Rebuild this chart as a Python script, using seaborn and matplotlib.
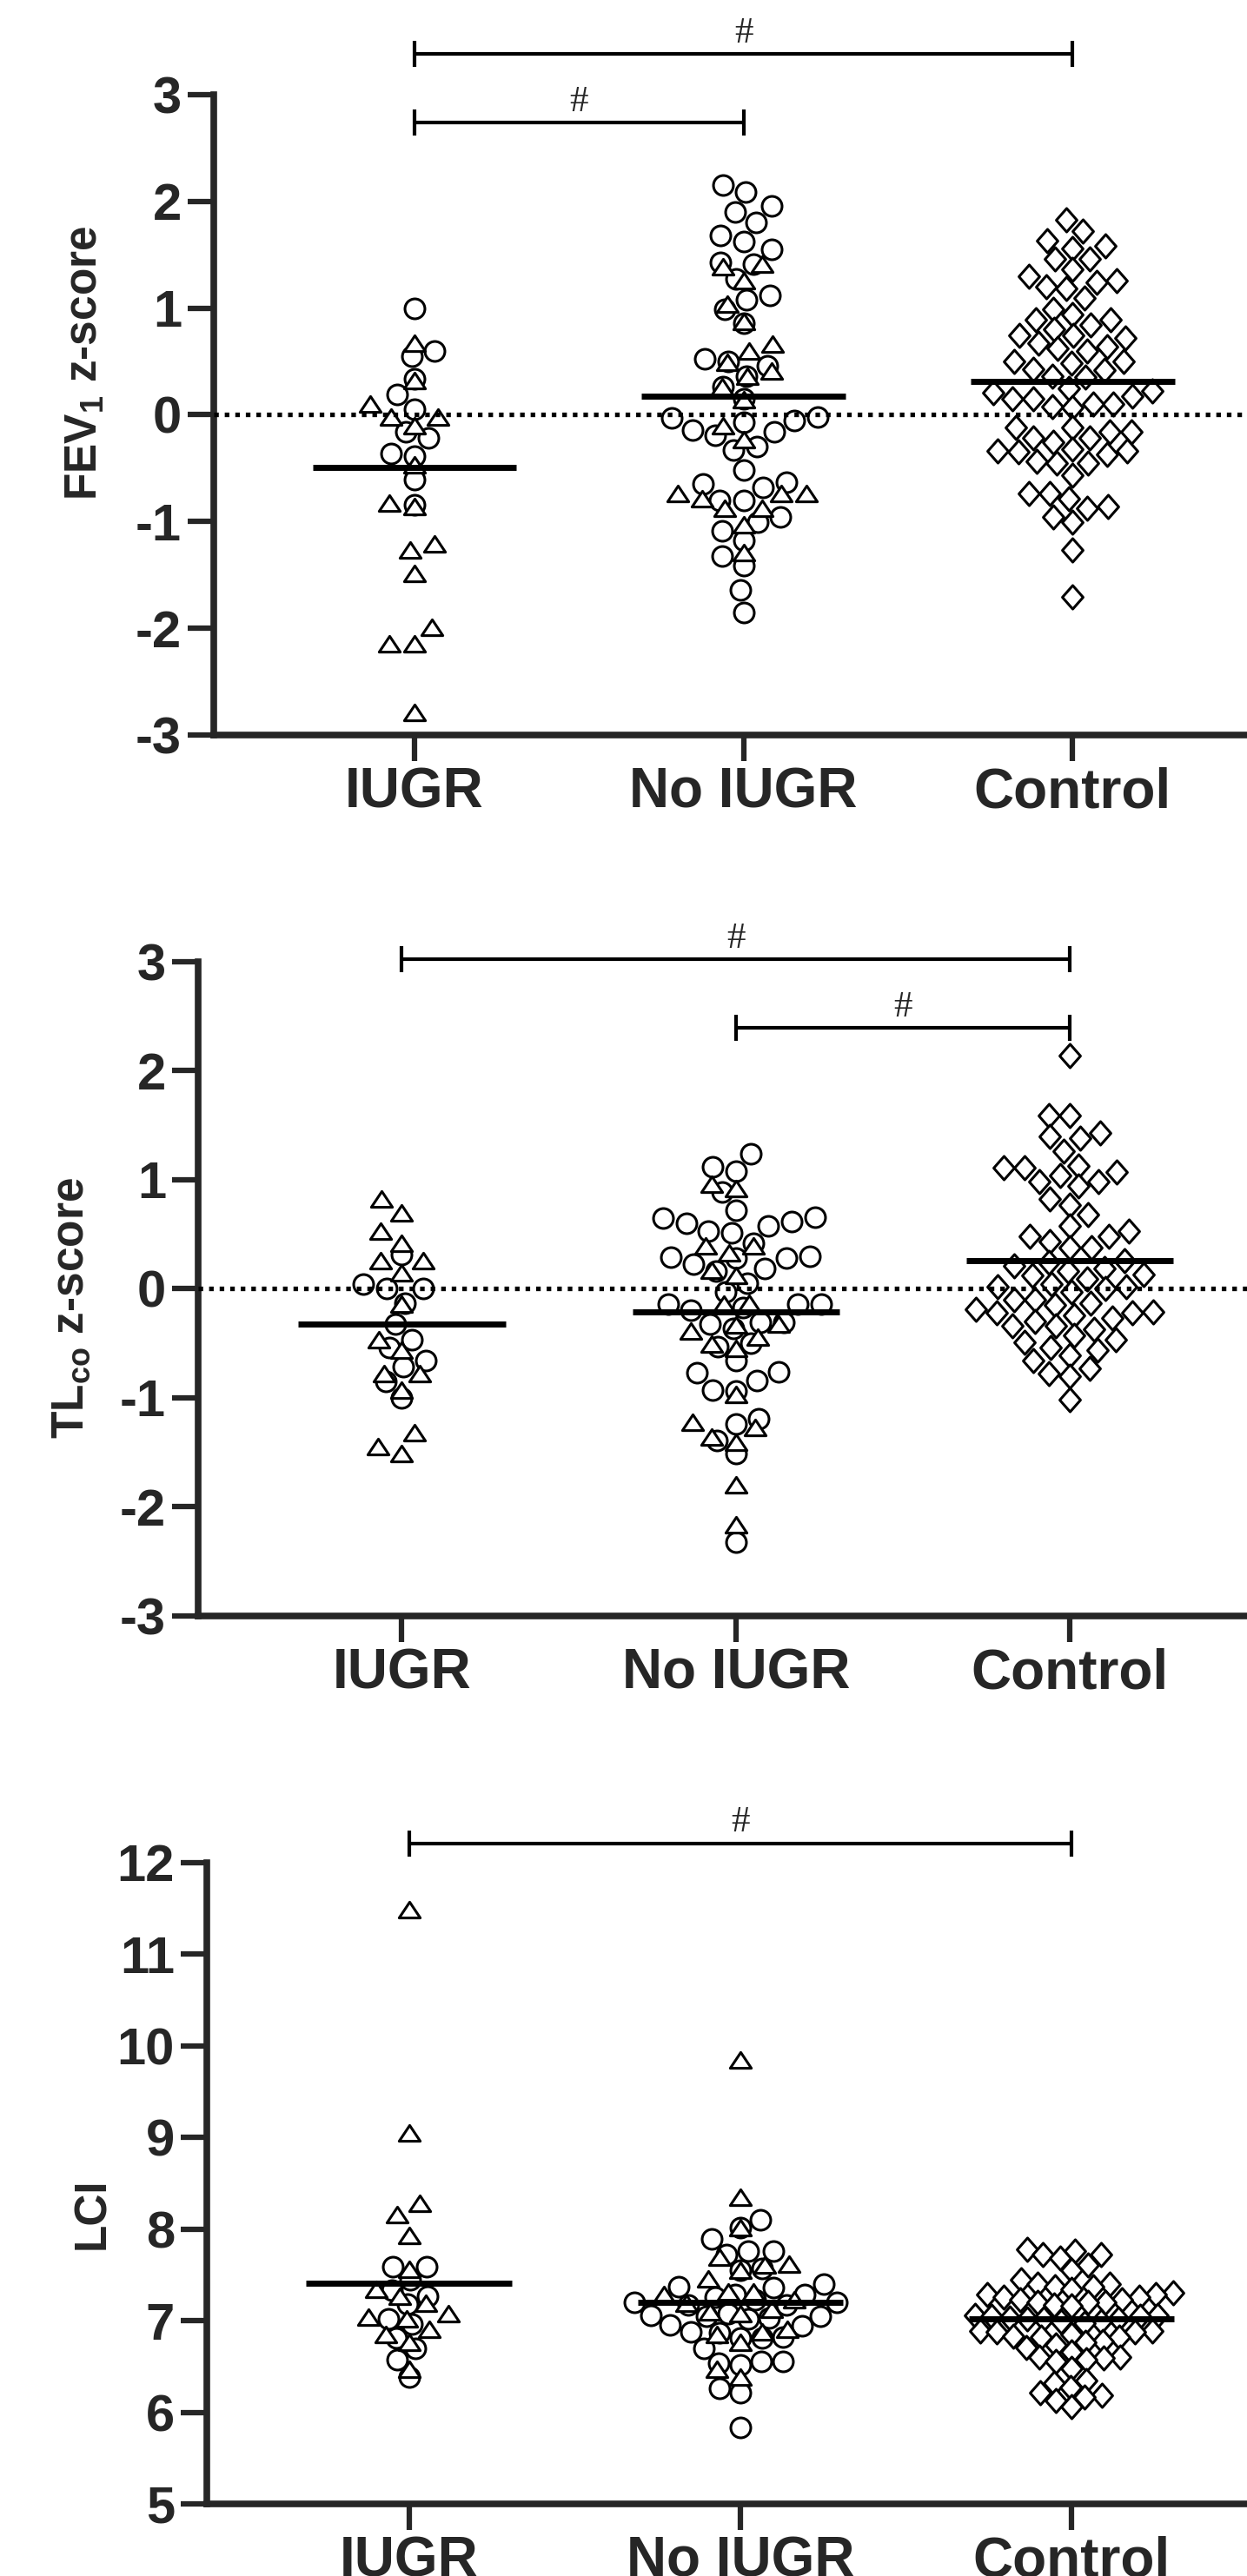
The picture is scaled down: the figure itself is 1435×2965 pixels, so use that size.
import matplotlib
matplotlib.use("Agg")
import matplotlib.pyplot as plt
from matplotlib.markers import MarkerStyle
from matplotlib.path import Path
from matplotlib.transforms import Affine2D
import numpy as np
import pandas as pd
import seaborn as sns

groups = ["IUGR", "No IUGR", "Control"]

# ---- FEV1 z-score (circles / triangles in the two preterm groups, diamonds = control)
fev1_iugr_circ = [1.0, 0.6, 0.55, 0.34, 0.19, 0.05, -0.16, -0.22, -0.36, -0.39, -0.61, -0.84]
fev1_iugr_tri = [0.67, 0.32, 0.1, -0.02, -0.02, -0.1, -0.47, -0.83, -0.86, -1.21, -1.27,
                 -1.49, -1.99, -2.15, -2.15, -2.79]
fev1_noiugr_circ = [2.15, 2.09, 1.96, 1.90, 1.80, 1.68, 1.62, 1.55, 1.43, 1.41, 1.27, 1.12,
                    1.08, 0.99, 0.86, 0.52, 0.50, 0.46, 0.36, 0.26, 0.15, -0.02, -0.03, -0.05,
                    -0.07, -0.14, -0.16, -0.19, -0.30, -0.33, -0.52, -0.63, -0.65, -0.68,
                    -0.80, -0.80, -0.96, -1.01, -1.09, -1.18, -1.32, -1.41, -1.64, -1.85]
fev1_noiugr_tri = [1.41, 1.39, 1.26, 1.04, 0.87, 0.66, 0.60, 0.49, 0.41, 0.36, 0.26, 0.14,
                   -0.10, -0.23, -0.74, -0.74, -0.74, -0.79, -0.88, -0.88, -1.03, -1.29]
fev1_control = [1.83, 1.72, 1.63, 1.58, 1.56, 1.46, 1.46, 1.36, 1.30, 1.26, 1.24, 1.20, 1.18,
                1.09, 0.99, 0.94, 0.89, 0.89, 0.84, 0.80, 0.74, 0.74, 0.72, 0.67, 0.64, 0.62,
                0.60, 0.50, 0.50, 0.48, 0.43, 0.42, 0.36, 0.35, 0.25, 0.22, 0.21, 0.17, 0.15,
                0.15, 0.10, 0.10, 0.08, 0.07, -0.12, -0.12, -0.16, -0.16, -0.22, -0.22, -0.26,
                -0.32, -0.34, -0.34, -0.35, -0.37, -0.44, -0.45, -0.45, -0.57, -0.74, -0.74,
                -0.79, -0.86, -0.88, -0.96, -1.01, -1.27, -1.71]
fev1_means = [-0.49, 0.17, 0.31]

# ---- TLco z-score
tlco_iugr_circ = [0.31, 0.04, 0.0, 0.0, -0.13, -0.32, -0.47, -0.54, -0.66, -0.71, -0.85, -1.0]
tlco_iugr_tri = [0.82, 0.70, 0.53, 0.42, 0.26, 0.26, 0.15, -0.14, -0.47, -0.56, -0.78, -0.78,
                 -0.93, -1.32, -1.45, -1.51]
tlco_noiugr_circ = [1.24, 1.12, 1.08, 0.89, 0.72, 0.66, 0.65, 0.62, 0.60, 0.58, 0.53, 0.51,
                    0.42, 0.30, 0.29, 0.28, 0.28, 0.23, 0.19, 0.16, 0.05, -0.03, -0.14, -0.14,
                    -0.14, -0.17, -0.20, -0.31, -0.31, -0.32, -0.36, -0.50, -0.53, -0.66,
                    -0.76, -0.77, -0.84, -0.93, -0.94, -1.19, -1.24, -1.39, -1.51, -2.32]
tlco_noiugr_tri = [0.96, 0.92, 0.39, 0.39, 0.33, 0.17, 0.12, -0.13, -0.14, -0.32, -0.33,
                   -0.39, -0.44, -0.51, -0.55, -0.97, -1.22, -1.27, -1.36, -1.41, -1.80, -2.16]
tlco_control = [2.14, 1.59, 1.59, 1.43, 1.40, 1.38, 1.26, 1.13, 1.11, 1.11, 1.07, 1.04, 0.98,
                0.98, 0.94, 0.82, 0.77, 0.68, 0.58, 0.53, 0.48, 0.48, 0.43, 0.38, 0.38, 0.26,
                0.24, 0.21, 0.19, 0.16, 0.13, 0.12, 0.09, 0.04, 0.02, 0.02, 0.0, -0.03, -0.10,
                -0.10, -0.13, -0.15, -0.19, -0.21, -0.22, -0.22, -0.24, -0.27, -0.30, -0.34,
                -0.34, -0.37, -0.43, -0.47, -0.49, -0.54, -0.56, -0.61, -0.66, -0.73, -0.78,
                -0.80, -1.02]
tlco_means = [-0.32, -0.21, 0.26]

# ---- LCI
lci_iugr_circ = [7.59, 7.59, 7.45, 7.33, 7.27, 7.18, 7.02, 6.96, 6.81, 6.70, 6.57, 6.38]
lci_iugr_tri = [11.49, 9.05, 8.28, 8.16, 7.93, 7.56, 7.34, 7.27, 7.19, 7.08, 7.04, 7.02, 6.91,
                6.85, 6.76, 6.47]
lci_noiugr_circ = [8.10, 8.02, 7.89, 7.76, 7.76, 7.72, 7.57, 7.55, 7.40, 7.37, 7.36, 7.29,
                   7.29, 7.26, 7.23, 7.20, 7.20, 7.17, 7.17, 7.08, 7.06, 7.05, 7.05, 7.03,
                   7.02, 6.95, 6.94, 6.88, 6.87, 6.82, 6.81, 6.81, 6.70, 6.56, 6.56, 6.54,
                   6.52, 6.26, 6.21, 5.83]
lci_noiugr_tri = [9.85, 8.35, 8.02, 7.69, 7.62, 7.61, 7.55, 7.46, 7.31, 7.31, 7.29, 7.23,
                  7.19, 7.12, 7.10, 7.08, 6.91, 6.88, 6.85, 6.76, 6.47, 6.38]
lci_control = [7.78, 7.76, 7.72, 7.72, 7.68, 7.61, 7.55, 7.45, 7.40, 7.40, 7.37, 7.37, 7.34,
               7.30, 7.29, 7.29, 7.26, 7.26, 7.23, 7.23, 7.20, 7.20, 7.20, 7.17, 7.16, 7.06,
               7.06, 7.05, 7.05, 7.03, 7.02, 7.02, 7.02, 6.99, 6.99, 6.97, 6.89, 6.89, 6.88,
               6.88, 6.85, 6.83, 6.82, 6.82, 6.77, 6.76, 6.74, 6.71, 6.66, 6.60, 6.60, 6.59,
               6.57, 6.56, 6.48, 6.35, 6.32, 6.27, 6.21, 6.19, 6.17, 6.13, 6.06]
lci_means = [7.41, 7.20, 7.02]

# significance brackets: (from group, to group, bar height, "#" height)
fev1_brackets = [(0, 2, 3.38, 3.57), (0, 1, 2.74, 2.93)]
tlco_brackets = [(0, 2, 3.02, 3.21), (1, 2, 2.39, 2.58)]
lci_brackets = [(0, 2, 12.21, 12.44)]

sns.set_style("ticks")
plt.rcParams["font.family"] = ["Liberation Sans", "DejaVu Sans"]
plt.rcParams["font.weight"] = "bold"
plt.rcParams["axes.unicode_minus"] = False
plt.rcParams["mathtext.default"] = "regular"

# open marker shapes, closed outlines
tri = Path([(0, 0.75), (-1, -0.75), (1, -0.75), (0, 0.75)], closed=True)
dia = Path([(0, 1), (-0.88, 0), (0, -1), (0.88, 0), (0, 1)], closed=True)
# marker and drawn size (pt)
markers = {"c": ("o", 16.5), "t": (tri, 17.5), "d": (dia, 19.5)}

# how tight the swarm packs each shape (GraphPad lets points overlap)
fev1_pack = {"c": 1.0, "t": 1.0, "d": 0.72}
tlco_pack = {"c": 1.0, "t": 1.0, "d": 0.74}
lci_pack = {"c": 0.9, "t": 1.0, "d": 0.58}


def make_df(iugr_c, iugr_t, noiugr_c, noiugr_t, ctrl):
    rows = []
    for g, vals, s in [("IUGR", iugr_c, "c"), ("IUGR", iugr_t, "t"),
                       ("No IUGR", noiugr_c, "c"), ("No IUGR", noiugr_t, "t"),
                       ("Control", ctrl, "d")]:
        for v in vals:
            rows.append((g, v, s))
    return pd.DataFrame(rows, columns=["group", "value", "shape"])


def panel(ax, df, means, ylim, yticks, ylabel, label_xy, brackets, zero_line, pack):
    for shp in ["c", "t", "d"]:
        mk, sz = markers[shp]
        f = pack[shp]
        n0 = len(ax.collections)
        sns.swarmplot(data=df[df["shape"] == shp], x="group", y="value", order=groups,
                      marker=mk, size=sz * f, color="white", edgecolor="black",
                      linewidth=2.2, warn_thresh=1, ax=ax)
        if f != 1.0:
            # swarm spacing uses the smaller size, the marker is drawn full size
            ms = MarkerStyle(mk)
            p = ms.get_path().transformed(ms.get_transform() + Affine2D().scale(1 / f))
            for coll in ax.collections[n0:]:
                coll.set_paths([p])

    pos = np.arange(len(groups))
    ax.hlines(means, pos - 0.31, pos + 0.31, color="black", lw=5, zorder=6)
    if zero_line:
        ax.axhline(0, color="black", lw=3.8, ls=(0, (1, 1.3)), zorder=5)

    ax.set_xlim(-0.61, 2.53)
    ax.set_ylim(*ylim)
    ax.set_yticks(yticks)
    ax.set_yticklabels([str(t) for t in yticks], fontsize=43, fontweight="bold")
    ax.set_xticks(pos)
    ax.set_xticklabels(groups, fontsize=46, fontweight="bold")
    ax.tick_params(length=21.6, width=4.5, pad=5, direction="out")
    ax.set_xlabel("")
    ax.set_ylabel(ylabel, fontsize=37, fontweight="bold")
    ax.yaxis.set_label_coords(*label_xy)

    sns.despine(ax=ax)
    for sp in ["left", "bottom"]:
        ax.spines[sp].set_linewidth(5.5)

    # brackets sit above the plotting area
    h_px = ax.get_position().height * fig.get_figheight() * fig.dpi
    cap = 15 * (ylim[1] - ylim[0]) / h_px
    for a, b, h, hh in brackets:
        ax.plot([a, b], [h, h], color="black", lw=3, clip_on=False, solid_capstyle="butt")
        ax.vlines([a, b], h - cap, h + cap, color="black", lw=3, clip_on=False)
        ax.text((a + b) / 2, hh, "#", ha="center", va="center", fontsize=31,
                family=["Liberation Serif", "DejaVu Serif"], fontweight="normal")


fig = plt.figure(figsize=(14.35, 29.65), dpi=100)
ax1 = fig.add_axes([0.1714, 0.7147, 0.8286, 0.2486])
ax2 = fig.add_axes([0.1589, 0.3727, 0.8411, 0.2540])
ax3 = fig.add_axes([0.1659, 0.0280, 0.8341, 0.2489])

panel(ax1, make_df(fev1_iugr_circ, fev1_iugr_tri, fev1_noiugr_circ, fev1_noiugr_tri, fev1_control),
      fev1_means, (-3, 3), list(range(-3, 4)), r"FEV$_1$ z-score", (-0.104, 0.58),
      fev1_brackets, True, fev1_pack)
panel(ax2, make_df(tlco_iugr_circ, tlco_iugr_tri, tlco_noiugr_circ, tlco_noiugr_tri, tlco_control),
      tlco_means, (-3, 3), list(range(-3, 4)), r"TL$_{co}$ z-score", (-0.101, 0.47),
      tlco_brackets, True, tlco_pack)
panel(ax3, make_df(lci_iugr_circ, lci_iugr_tri, lci_noiugr_circ, lci_noiugr_tri, lci_control),
      lci_means, (5, 12), list(range(5, 13)), "LCI", (-0.089, 0.453),
      lci_brackets, False, lci_pack)

fig.savefig("out.png", dpi=100)
